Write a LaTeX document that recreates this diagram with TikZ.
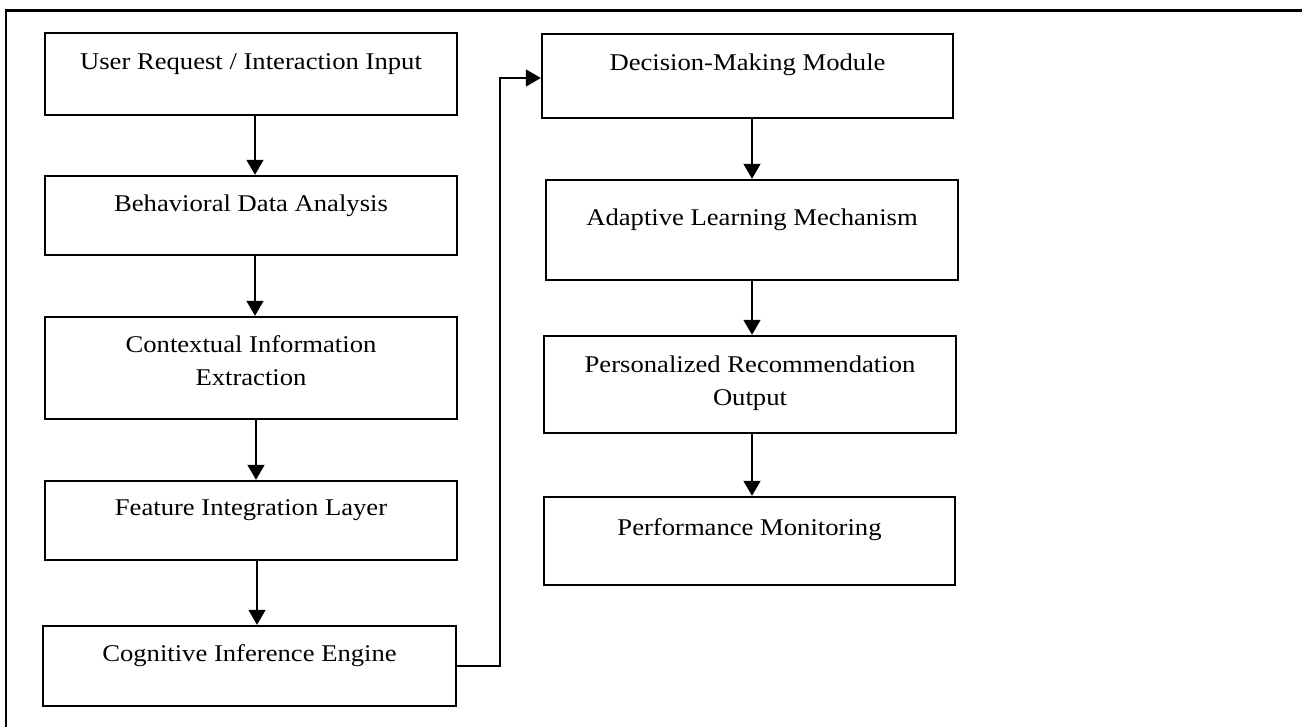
\documentclass[tikz,border=0pt]{standalone}
\usepackage{fontspec}
\setmainfont{Liberation Serif}[FakeStretch=1.11]
\usetikzlibrary{arrows.meta}

\tikzset{
  stage/.style={draw=black, line width=2.4pt, inner sep=0pt, fill=white},
  stagetext/.style={anchor=north, inner sep=0pt, align=center,
    font=\fontsize{24}{33}\selectfont, text=black},
  flow/.style={draw=black, line width=1.6pt,
    -{Triangle[width=17pt,length=15pt]}},
}

\newcommand{\firstline}{\rule{0pt}{23.1pt}}

\begin{document}
\begin{tikzpicture}[x=1pt,y=-1pt]
  \useasboundingbox (0,0) rectangle (1302,727);

  % page frame (top and left edges)
  \draw[line width=2.3pt] (6,727) -- (6,10.5) -- (1302,10.5);

  % left column
  \node[stage, minimum width=412, minimum height=82]  (b1) at (251,74)    {};
  \node[stage, minimum width=412, minimum height=79]  (b2) at (251,215.5) {};
  \node[stage, minimum width=412, minimum height=102] (b3) at (251,368)   {};
  \node[stage, minimum width=412, minimum height=79]  (b4) at (251,520.5) {};
  \node[stage, minimum width=413, minimum height=80]  (b5) at (249.5,666) {};

  % right column
  \node[stage, minimum width=411, minimum height=84]  (b6) at (747.5,76)  {};
  \node[stage, minimum width=412, minimum height=100] (b7) at (752,230)   {};
  \node[stage, minimum width=412, minimum height=97]  (b8) at (750,384.5) {};
  \node[stage, minimum width=411, minimum height=88]  (b9) at (749.5,541) {};

  % captions, set near the top of each box
  \node[stagetext] (t1) at ([yshift=-14pt]b1.north) {\firstline User Request / Interaction Input};
  \node[stagetext] (t2) at ([yshift=-13pt]b2.north) {\firstline Behavioral Data Analysis};
  \node[stagetext] (t3) at ([yshift=-13pt]b3.north) {\firstline Contextual Information\\Extraction};
  \node[stagetext] (t4) at ([yshift=-12pt]b4.north) {\firstline Feature Integration Layer};
  \node[stagetext] (t5) at ([yshift=-13pt]b5.north) {\firstline Cognitive Inference Engine};
  \node[stagetext] (t6) at ([yshift=-14pt]b6.north) {\firstline Decision-Making Module};
  \node[stagetext] (t7) at ([yshift=-23pt]b7.north) {\firstline Adaptive Learning Mechanism};
  \node[stagetext] (t8) at ([yshift=-14pt]b8.north) {\firstline Personalized Recommendation\\Output};
  \node[stagetext] (t9) at ([yshift=-16pt]b9.north) {\firstline Performance Monitoring};

  % connectors
  \draw[flow] ([xshift=4pt]b1.south) -- ([xshift=4pt]b2.north);
  \draw[flow] ([xshift=4pt]b2.south) -- ([xshift=4pt]b3.north);
  \draw[flow] ([xshift=5pt]b3.south) -- ([xshift=5pt]b4.north);
  \draw[flow] ([xshift=6pt]b4.south) -- ([xshift=7.5pt]b5.north);
  \coordinate (bend) at (500,666);
  \draw[flow] (b5.east) -- (bend) |- ([yshift=-2pt]b6.west);
  \draw[flow] ([xshift=4.5pt]b6.south) -- (b7.north);
  \draw[flow] (b7.south) -- ([xshift=2pt]b8.north);
  \draw[flow] ([xshift=2pt]b8.south) -- ([xshift=2.5pt]b9.north);
\end{tikzpicture}
\end{document}
